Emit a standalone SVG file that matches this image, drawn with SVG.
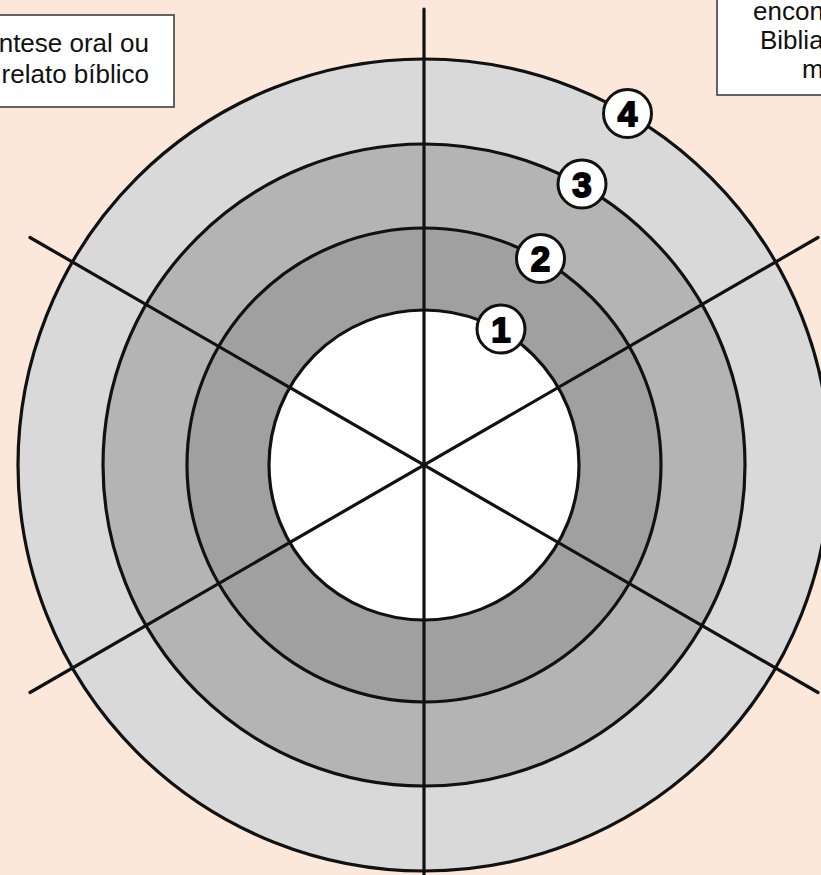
<svg xmlns="http://www.w3.org/2000/svg" width="821" height="875" viewBox="0 0 821 875">
  <style>
    .ring { stroke: #111; stroke-width: 3.2; }
    .spoke { stroke: #111; stroke-width: 3.2; stroke-linecap: round; fill: none; }
    .box { fill: #ffffff; stroke: #333; stroke-width: 1.5; }
    .label { font-family: "Liberation Sans", Arial, sans-serif; font-size: 26px; fill: #111; }
    .mk circle { fill: #ffffff; stroke: #111; stroke-width: 3; }
    .mk text { font-family: "Liberation Sans", Arial, sans-serif; font-size: 35px; font-weight: bold; fill: #000; stroke: #000; stroke-width: 1.8; text-anchor: middle; }
  </style>
  <rect width="821" height="875" fill="#FCE8DA"/>

  <g id="ring4"><circle class="ring" cx="424" cy="465" r="406" fill="#D9D9D9"/></g>
  <g id="ring3"><circle class="ring" cx="424" cy="465" r="321" fill="#B4B4B4"/></g>
  <g id="ring2"><circle class="ring" cx="424" cy="465" r="237" fill="#A0A0A0"/></g>
  <g id="ring1"><circle class="ring" cx="424" cy="465" r="155" fill="#FFFFFF"/></g>

  <g id="connectors">
    <line class="spoke" x1="424" y1="9" x2="424" y2="880"/>
    <line class="spoke" x1="30" y1="237.5" x2="818" y2="692.5"/>
    <line class="spoke" x1="30" y1="692.5" x2="818" y2="237.5"/>
  </g>

  <g id="box-left">
    <rect class="box" x="-5" y="15" width="179" height="92"/>
    <text class="label" x="149" y="52" text-anchor="end">ntese oral ou</text>
    <text class="label" x="149" y="83" text-anchor="end">relato bíblico</text>
  </g>

  <g id="box-right">
    <rect class="box" x="717" y="-5" width="110" height="100"/>
    <text class="label" x="753" y="20">encon</text>
    <text class="label" x="760" y="49">Biblia</text>
    <text class="label" x="802" y="78">m</text>
  </g>

  <g id="marker1" class="mk"><circle cx="501" cy="329" r="24"/><text x="501" y="341.5">1</text></g>
  <g id="marker2" class="mk"><circle cx="540.5" cy="258.5" r="24"/><text x="540.5" y="271">2</text></g>
  <g id="marker3" class="mk"><circle cx="582" cy="184" r="24"/><text x="582" y="196.5">3</text></g>
  <g id="marker4" class="mk"><circle cx="627.5" cy="113.5" r="24"/><text x="627.5" y="126">4</text></g>
</svg>
